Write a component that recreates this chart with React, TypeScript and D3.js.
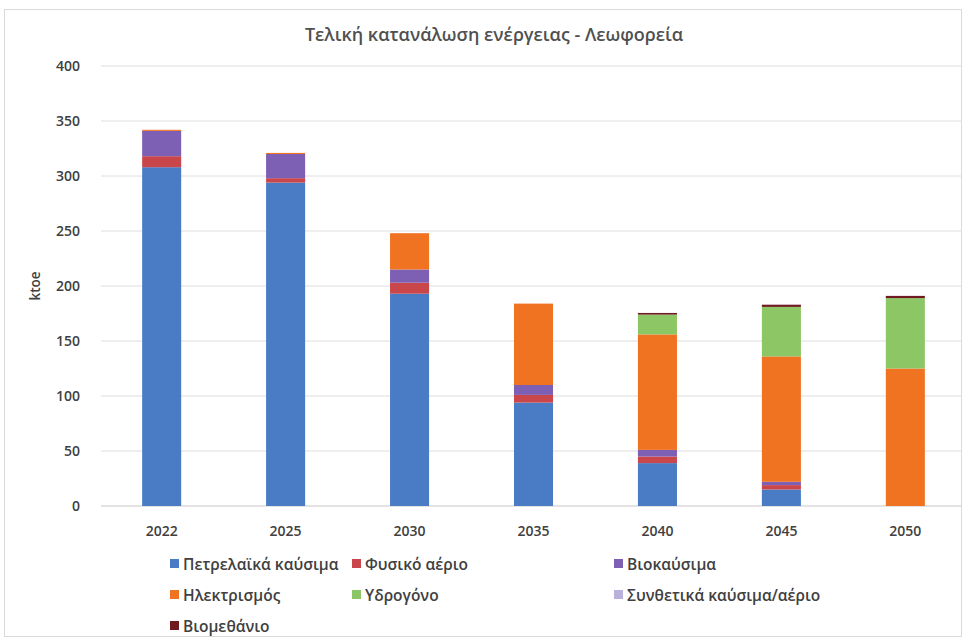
import React, { useRef, useEffect } from "react";
import * as d3 from "d3";

const years = ["2022", "2025", "2030", "2035", "2040", "2045", "2050"];

const seriesNames = [
    "Πετρελαϊκά καύσιμα",
    "Φυσικό αέριο",
    "Βιοκαύσιμα",
    "Ηλεκτρισμός",
    "Υδρογόνο",
    "Συνθετικά καύσιμα/αέριο",
    "Βιομεθάνιο",
];

const seriesColors = ["#4a7cc6", "#c9474a", "#7d5fb4", "#f07322", "#8cc665", "#b9b0dc", "#6e1a20"];

// values per series, same order as years
const petroleum = [308, 294, 193, 94, 39, 15, 0];
const naturalGas = [10, 4, 10, 7, 6, 4, 0];
const biofuels = [23, 22, 12, 9, 6, 3, 0];
const electricity = [1, 1, 33, 74, 105, 114, 125];
const hydrogen = [0, 0, 0, 0, 18, 45, 64];
const synthetic = [0, 0, 0, 0, 0, 0, 0];
const biomethane = [0, 0, 0, 0, 1.5, 2, 2];

const yTicks = [0, 50, 100, 150, 200, 250, 300, 350, 400];

const W = 966;
const H = 639;

const App: React.FC = () => {
    const svgRef = useRef<SVGSVGElement | null>(null);

    useEffect(() => {
        if (!svgRef.current) return;
        const svg = d3.select(svgRef.current);
        svg.selectAll("*").remove();

        const allSeries = [petroleum, naturalGas, biofuels, electricity, hydrogen, synthetic, biomethane];
        const rows = years.map((y, i) => {
            const row: Record<string, number | string> = { year: y };
            seriesNames.forEach((s, k) => (row[s] = allSeries[k][i]));
            return row;
        });

        const stack = d3.stack<Record<string, number | string>>().keys(seriesNames)
            .value((d, key) => d[key] as number);
        const stacked = stack(rows);

        const x = d3.scaleBand().domain(years).range([100, 967]).paddingInner(0.685).paddingOuter(0.34);
        const y = d3.scaleLinear().domain([0, 400]).range([506, 66]);

        // chart border
        svg.append("rect")
            .attr("x", 4.5).attr("y", 9.5).attr("width", W - 9).attr("height", H - 12)
            .attr("fill", "#fff").attr("stroke", "#d9d9d9");

        svg.append("text")
            .attr("x", 494).attr("y", 41)
            .attr("text-anchor", "middle")
            .attr("font-size", 18)
            .attr("font-weight", 600)
            .attr("fill", "#505050")
            .text("Τελική κατανάλωση ενέργειας - Λεωφορεία");

        // grid
        svg.append("g").selectAll("line")
            .data(yTicks)
            .enter().append("line")
            .attr("x1", 101).attr("x2", 962)
            .attr("y1", d => y(d)).attr("y2", d => y(d))
            .attr("stroke", d => (d === 0 ? "#c8c8c8" : "#dedede"))
            .attr("stroke-width", 1);

        svg.append("g").selectAll("text")
            .data(yTicks)
            .enter().append("text")
            .attr("x", 80).attr("y", d => y(d) + 5)
            .attr("text-anchor", "end")
            .attr("font-size", 14)
            .attr("font-weight", 600)
            .attr("fill", "#404040")
            .text(d => d);

        svg.append("text")
            .attr("transform", `translate(40,${y(200)}) rotate(-90)`)
            .attr("text-anchor", "middle")
            .attr("font-size", 13.5)
            .attr("font-weight", 600)
            .attr("fill", "#404040")
            .text("ktoe");

        // bars
        svg.append("g").selectAll("g")
            .data(stacked)
            .enter().append("g")
            .attr("fill", (_, i) => seriesColors[i])
            .selectAll("rect")
            .data(d => d)
            .enter().append("rect")
            .attr("x", d => x(d.data.year as string) as number)
            .attr("width", x.bandwidth())
            .attr("y", d => y(d[1]))
            .attr("height", d => Math.max(0, y(d[0]) - y(d[1])));

        svg.append("g").selectAll("text")
            .data(years)
            .enter().append("text")
            .attr("x", d => (x(d) as number) + x.bandwidth() / 2)
            .attr("y", 536)
            .attr("text-anchor", "middle")
            .attr("font-size", 14)
            .attr("font-weight", 600)
            .attr("fill", "#404040")
            .text(d => d);

        // legend
        const colX = [170, 352, 614];
        const legend = svg.append("g").selectAll("g")
            .data(seriesNames)
            .enter().append("g")
            .attr("transform", (_, i) => `translate(${colX[i % 3]},${564 + Math.floor(i / 3) * 31})`);
        legend.append("rect")
            .attr("x", 0).attr("y", -5).attr("width", 9).attr("height", 9)
            .attr("fill", (_, i) => seriesColors[i]);
        legend.append("text")
            .attr("x", 13).attr("y", 5.5)
            .attr("font-size", 15.5)
            .attr("font-weight", 600)
            .attr("fill", "#404040")
            .text(d => d);
    }, []);

    return (
        <svg
            ref={svgRef}
            width={W}
            height={H}
            style={{ position: "absolute", left: 0, top: 0, fontFamily: "'Open Sans', sans-serif", background: "#fff" }}
        />
    );
};

export default App;
